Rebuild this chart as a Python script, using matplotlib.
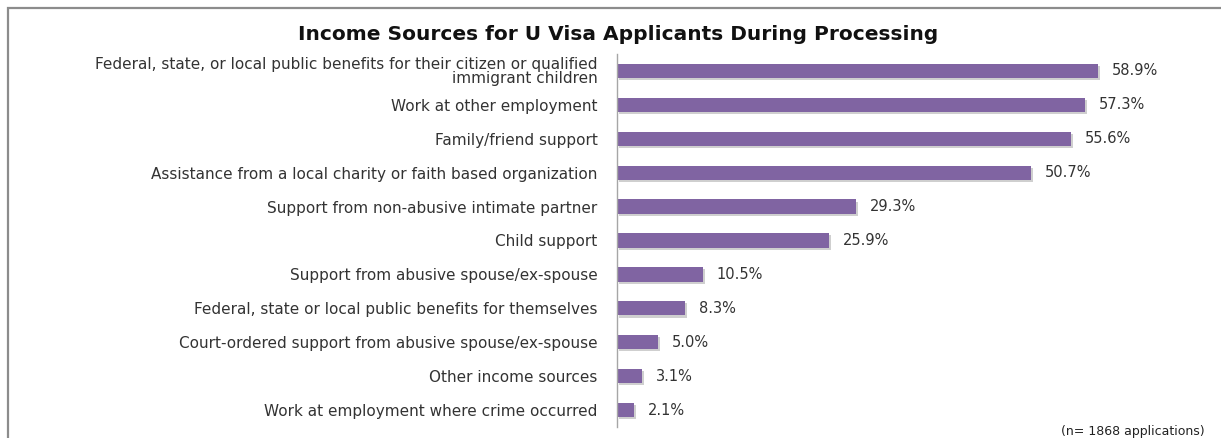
import numpy as np
import matplotlib.pyplot as plt
import matplotlib.patheffects as pe
from matplotlib.patches import Rectangle

# data (top to bottom)
categories = [
    "Federal, state, or local public benefits for their citizen or qualified\nimmigrant children",
    "Work at other employment",
    "Family/friend support",
    "Assistance from a local charity or faith based organization",
    "Support from non-abusive intimate partner",
    "Child support",
    "Support from abusive spouse/ex-spouse",
    "Federal, state or local public benefits for themselves",
    "Court-ordered support from abusive spouse/ex-spouse",
    "Other income sources",
    "Work at employment where crime occurred",
]
values = [58.9, 57.3, 55.6, 50.7, 29.3, 25.9, 10.5, 8.3, 5.0, 3.1, 2.1]
title = "Income Sources for U Visa Applicants During Processing"
note = "(n= 1868 applications)"

W, H = 1221, 438
plt.rcParams['font.family'] = ['DejaVu Sans']
fig = plt.figure(figsize=(W / 100, H / 100), dpi=100)

# outer chart frame (cut off on right and bottom in the source)
fig.patches.append(Rectangle((8 / W, -0.05), 1.2, 1 - 8 / H + 0.05,
                             transform=fig.transFigure, fill=False,
                             edgecolor="#8c8c8c", linewidth=1.6))

# axes placed in pixel terms
x0, x1 = 617, 1175
y_top, y_bot = 54, 427
ax = fig.add_axes([x0 / W, 1 - y_bot / H, (x1 - x0) / W, (y_bot - y_top) / H])

y = np.arange(len(values))
bars = ax.barh(y, values, height=0.42, color="#8064A2",
               path_effects=[pe.SimplePatchShadow(offset=(1.5, -1.5), shadow_rgbFace="#b0b0b0", alpha=0.6),
                             pe.Normal()])
ax.set_ylim(len(values) - 0.5, -0.5)
ax.set_xlim(0, (x1 - x0) / 8.17)

for yi, v in zip(y, values):
    ax.text(v + 1.7, yi, f"{v:.1f}%", va="center", ha="left",
            fontsize=10.5, color="#333333")

ax.set_yticks(y)
ax.set_yticklabels(categories, fontsize=11, color="#333333", linespacing=0.9)
ax.tick_params(axis="y", length=0, pad=14)
ax.set_xticks([])
for s in ["top", "right", "bottom"]:
    ax.spines[s].set_visible(False)
ax.spines["left"].set_color("#a6a6a6")
ax.spines["left"].set_linewidth(1.0)

fig.text(618 / W, 1 - 35 / H, title, ha="center", va="center",
         fontsize=14.5, fontweight="bold", color="#111111")
fig.text(1205 / W, 1 - 432 / H, note, ha="right", va="center",
         fontsize=9, color="#222222")

fig.savefig("out.png", dpi=100)
